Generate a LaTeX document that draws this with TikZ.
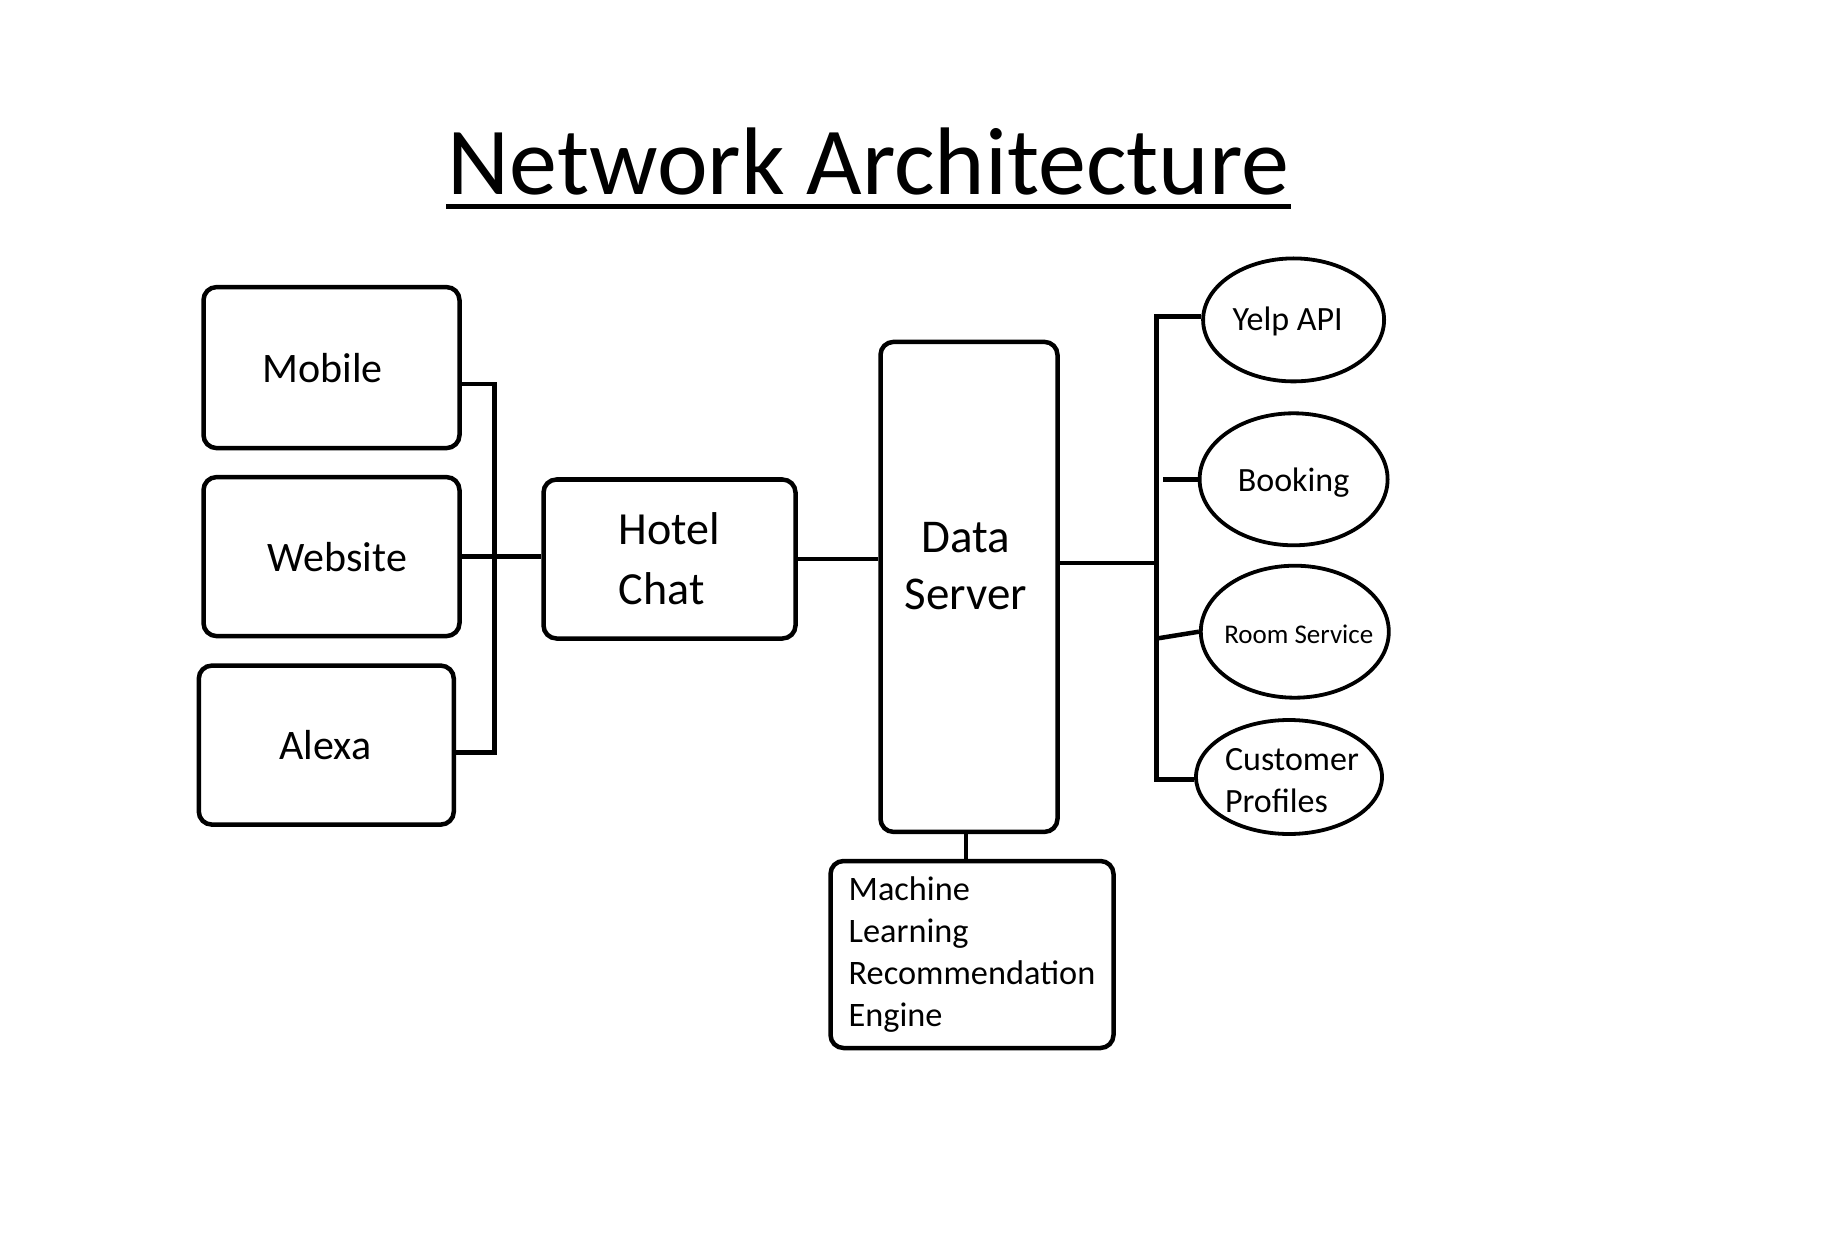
\documentclass[tikz,border=0pt]{standalone}
\usepackage{fontspec}
\setmainfont{Carlito}
\usetikzlibrary{shapes.geometric}
\begin{document}
\begin{tikzpicture}[x=1pt,y=-1pt,
  box/.style={draw, line width=4.5pt, rounded corners=13pt, inner sep=0pt},
  oval/.style={draw, ellipse, line width=3.8pt, inner sep=0pt},
  wire/.style={line width=4.5pt},
  bigtxt/.style={font=\fontsize{42}{50}\selectfont},
  midtxt/.style={font=\fontsize{46}{60}\selectfont, align=left},
  smalltxt/.style={font=\fontsize{34}{42}\selectfont}]
\useasboundingbox (0,0) rectangle (1824,1246);
\fill[white] (0,0) rectangle (1824,1246);

% title
\node[anchor=base, font=\fontsize{96}{115}\selectfont, inner sep=0pt] (title) at (868.4,195) {Network Architecture};
\coordinate (ul1) at (446,207);
\coordinate (ul2) at (1291,207);
\draw[line width=5pt] (ul1) -- (ul2);

% left boxes
\node[box, minimum width=256pt, minimum height=161pt, label={[bigtxt, xshift=-9pt]center:Mobile}] (mobile) at (331.5,367.6) {};
\node[box, minimum width=256pt, minimum height=159pt, label={[bigtxt, xshift=6pt]center:Website}] (website) at (331.5,556.6) {};
\node[box, minimum width=255pt, minimum height=159pt, label={[bigtxt, xshift=-1pt]center:Alexa}] (alexa) at (326.3,745.1) {};

% hotel chat
\node[box, midtxt, minimum width=252pt, minimum height=159pt] (hotel) at (669.5,559) {Hotel\\Chat};

% data server
\node[box, minimum width=177pt, minimum height=490pt, label={[font=\fontsize{47}{57}\selectfont, align=center, yshift=21pt, xshift=-3pt]center:Data\\Server}] (ds) at (969,586.9) {};

% machine learning
\node[box, font=\fontsize{34.3}{41.8}\selectfont, align=left, minimum width=283pt, minimum height=187pt] (ml) at (972,954.5) {Machine\\Learning\\Recommendation\\Engine};

% right ovals
\node[oval, minimum width=181pt, minimum height=123pt, label={[smalltxt, xshift=-6pt, yshift=-2pt]center:Yelp API}] (yelp) at (1293.6,319.9) {};
\node[oval, minimum width=188pt, minimum height=132pt, label={[smalltxt, yshift=-3pt]center:Booking}] (booking) at (1293.6,479.3) {};
\node[oval, minimum width=188pt, minimum height=132pt, label={[font=\fontsize{27}{32}\selectfont, xshift=4pt, yshift=-3pt]center:Room Service}] (room) at (1294.8,631.7) {};
\node[oval, minimum width=186pt, minimum height=114pt, label={[smalltxt, align=left, xshift=3pt, yshift=-4pt]center:Customer\\Profiles}] (cust) at (1289,777) {};

% left bus
\coordinate (bl1) at (494.4,383.9);
\coordinate (bl2) at (494.4,752.7);
\draw[wire] (mobile.east |- bl1) -- (bl1) -- (bl2) -- (alexa.east |- bl2);
\draw[wire] (website.east) -- (website.east -| hotel.west);

% hotel to ds
\draw[wire] (hotel.east) -- (hotel.east -| ds.west);

% right bus
\coordinate (dsr) at (1057.4,563);
\coordinate (br0) at (1156.3,563);
\coordinate (br1) at (1156.3,316.4);
\coordinate (br2) at (1156.3,779.4);
\coordinate (bk) at (1163.3,479.3);
\coordinate (rs) at (1156.3,638.6);
\draw[wire] (ds.east |- dsr) -- (br0);
\draw[wire] (br1 -| yelp.west) -- (br1) -- (br2) -- (cust.west |- br2);
\draw[wire] (bk) -- (booking.west);
\draw[wire] (rs) -- (room.west);

% ds to ml
\draw[wire] (ds.south) ++(-3,0) coordinate (dsb) -- (dsb |- ml.north);
\end{tikzpicture}
\end{document}
